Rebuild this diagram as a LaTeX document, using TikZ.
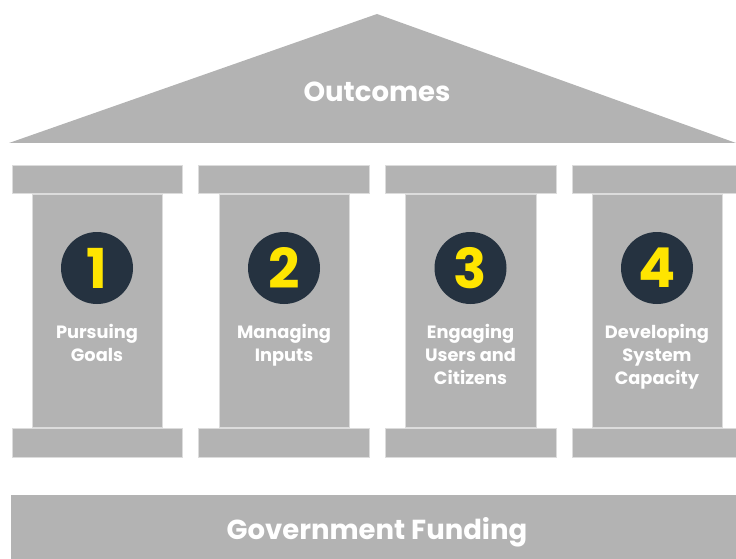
\documentclass[tikz,border=0pt]{standalone}
\usepackage{fontspec}
\setmainfont{Poppins}
\definecolor{pgray}{HTML}{B3B3B3}
\definecolor{pedge}{HTML}{DCDCDC}
\definecolor{cdark}{HTML}{253240}
\definecolor{cyel}{HTML}{FFE500}
\tikzset{
  block/.style={fill=pgray, draw=pedge, line width=0.7pt},
  numdisc/.style={circle, fill=cdark, minimum size=72pt, inner sep=0pt, text=cyel, font=\fontsize{55}{55}\selectfont\bfseries},
  pillarlabel/.style={text=white, font=\fontsize{17.8}{23}\selectfont\bfseries, align=center, anchor=north},
  title/.style={text=white, font=\fontsize{27.5}{32}\selectfont\bfseries}
}
\begin{document}
\begin{tikzpicture}[x=1pt,y=-1pt]
\useasboundingbox (0,0) rectangle (736,559);
% roof
\fill[pgray] (9,143) -- (377,14) -- (736,143) -- cycle;
\node[title] (outcomes) at (377,92) {Outcomes};
% pillars
\foreach \i/\bl/\br/\pl/\pr/\cx/\txt in {
  1/12/182/32/162/97/{Pursuing\\Goals},
  2/198/369/219/349/284/{Managing\\Inputs},
  3/385/556/405/536/470.5/{Engaging\\Users and\\Citizens},
  4/572/737/592/722/657/{Developing\\System\\Capacity}} {
  \draw[block] (\bl,165) rectangle (\br,193);
  \draw[block] (\pl,194) rectangle (\pr,427);
  \draw[block] (\bl,428) rectangle (\br,457);
  \node[numdisc] (n\i) at (\cx,268) {\i};
  \node[pillarlabel] (l\i) at (\cx,320.5) {\txt};
}
% base
\fill[pgray] (11,495) rectangle (736,559);
\node[title] (funding) at (377,532) {Government Funding};
\end{tikzpicture}
\end{document}
